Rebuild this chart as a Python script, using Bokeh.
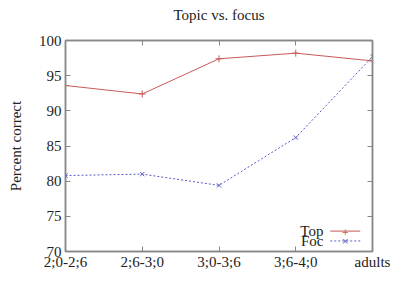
from bokeh.plotting import figure
from bokeh.models import Range1d, FixedTicker, LinearAxis, Label, Arrow, ColumnDataSource, CustomLabelingPolicy
from bokeh.embed import file_html
from bokeh.resources import INLINE

# ---- data ----
groups = ["2;0-2;6", "2;6-3;0", "3;0-3;6", "3;6-4;0", "adults"]
topic = [93.6, 92.4, 97.4, 98.2, 97.1]
focus = [80.8, 81.0, 79.4, 86.2, 97.7]
y_ticks = [70, 75, 80, 85, 90, 95, 100]

FONT = "Liberation Serif"
FS = "15px"
AXIS_COLOR = "#888888"
TOP_COLOR = "#c85a5a"
FOC_COLOR = "#5a5ac8"

xs = list(range(len(groups)))

p = figure(width=398, height=273, output_backend="svg", toolbar_location=None,
           x_range=Range1d(0, len(groups) - 1), y_range=Range1d(70, 100),
           title="Topic vs. focus",
           min_border_left=65, min_border_right=19, min_border_top=31, min_border_bottom=22)

p.title.text_font = FONT
p.title.text_font_size = FS
p.title.text_font_style = "normal"
p.title.text_color = "#222222"
p.title.align = "center"
p.title.standoff = 9

p.xgrid.visible = False
p.ygrid.visible = False
p.outline_line_color = AXIS_COLOR
p.outline_line_width = 1.5

no_labels = CustomLabelingPolicy(code="""
for (const i of indices) { indices.unset(i) }
return indices
""")

def style_axis(ax, labels=True):
    ax.axis_line_color = AXIS_COLOR
    ax.axis_line_width = 1.5
    ax.major_tick_line_color = AXIS_COLOR
    ax.major_tick_in = 5
    ax.major_tick_out = 0
    ax.minor_tick_line_color = None
    ax.major_label_text_font = FONT
    ax.major_label_text_font_size = FS
    ax.major_label_text_color = "#222222"
    ax.axis_label_text_font = FONT
    ax.axis_label_text_font_size = FS
    ax.axis_label_text_font_style = "normal"
    ax.axis_label_text_color = "#222222"
    if not labels:
        ax.major_label_policy = no_labels
        ax.major_label_standoff = 0

xax = p.xaxis[0]
xax.ticker = FixedTicker(ticks=xs)
xax.major_label_overrides = {i: g for i, g in enumerate(groups)}
xax.major_label_standoff = 2
style_axis(xax)

yax = p.yaxis[0]
yax.ticker = FixedTicker(ticks=y_ticks)
yax.axis_label = "Percent correct"
yax.major_label_standoff = 4
yax.axis_label_standoff = 12
style_axis(yax)

top_ax = LinearAxis(ticker=FixedTicker(ticks=xs))
style_axis(top_ax, labels=False)
p.add_layout(top_ax, "above")
right_ax = LinearAxis(ticker=FixedTicker(ticks=y_ticks))
style_axis(right_ax, labels=False)
p.add_layout(right_ax, "right")

src = ColumnDataSource(dict(x=xs, top=topic, foc=focus))
p.line("x", "top", source=src, line_color=TOP_COLOR, line_width=1)
p.scatter("x", "top", source=src, marker="cross", size=7, line_color=TOP_COLOR, line_width=1)
p.line("x", "foc", source=src, line_color=FOC_COLOR, line_width=1, line_dash="2 2")
p.scatter("x", "foc", source=src, marker="x", size=6, line_color=FOC_COLOR, line_width=1)

# ---- legend (manual, text left of sample) ----
leg_text_x = 3.36
leg_x0, leg_x1 = 3.45, 3.84
leg_rows = [("Top", 72.9, TOP_COLOR, "solid", "+"), ("Foc", 71.5, FOC_COLOR, "2 2", "×")]
for name, yy, col, dash, mk in leg_rows:
    p.add_layout(Label(x=leg_text_x, y=yy, text=name, text_font=FONT, text_font_size=FS,
                       text_align="right", text_baseline="middle", text_color="#222222"))
    p.add_layout(Arrow(end=None, x_start=leg_x0, y_start=yy, x_end=leg_x1, y_end=yy,
                       line_color=col, line_width=1, line_dash=dash))
    p.add_layout(Label(x=(leg_x0 + leg_x1) / 2, y=yy, text=mk, text_font="DejaVu Sans",
                       text_font_size="9px", text_align="center", text_baseline="middle",
                       text_color=col))

open("out.html", "w").write(file_html(p, INLINE))
